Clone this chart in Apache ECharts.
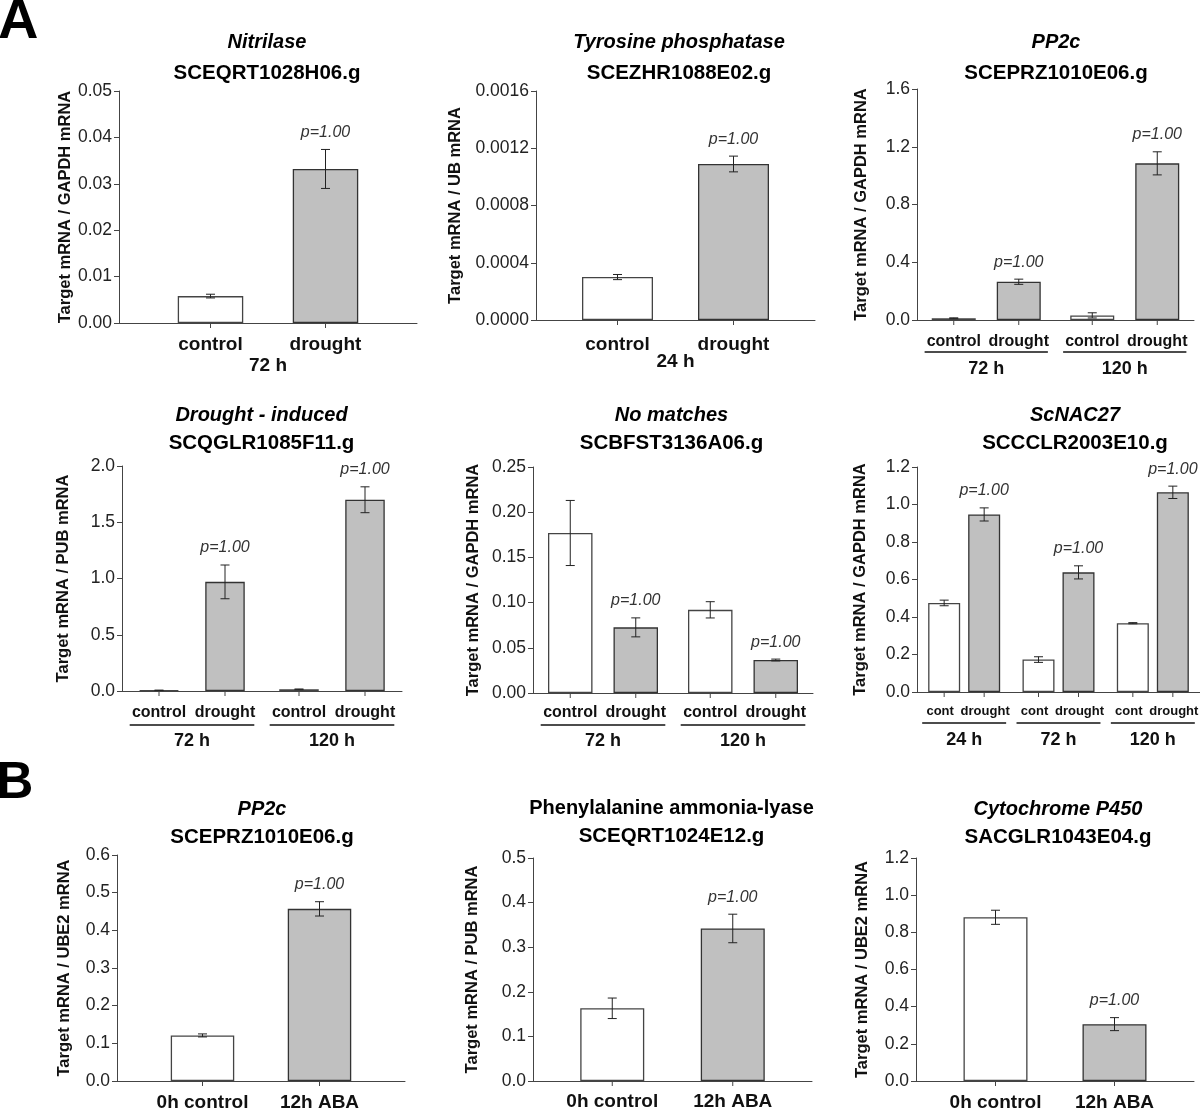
<!DOCTYPE html>
<html>
<head>
<meta charset="utf-8">
<script src="https://cdn.jsdelivr.net/npm/echarts@6/dist/echarts.min.js"></script>
<style>html,body{margin:0;padding:0;background:#fff}#c{width:1200px;height:1112px}</style>
</head>
<body>
<div id="c"></div>
<script>
// ---------------- DATA ----------------
const geneNames = ['Nitrilase', 'Tyrosine phosphatase', 'PP2c', 'Drought - induced', 'No matches', 'ScNAC27', 'PP2c', 'Phenylalanine ammonia-lyase', 'Cytochrome P450'];
const geneItalic = [true, true, true, true, true, true, true, false, true];
const geneIds = ['SCEQRT1028H06.g', 'SCEZHR1088E02.g', 'SCEPRZ1010E06.g', 'SCQGLR1085F11.g', 'SCBFST3136A06.g', 'SCCCLR2003E10.g', 'SCEPRZ1010E06.g', 'SCEQRT1024E12.g', 'SACGLR1043E04.g'];
const yAxisNames = ['Target mRNA / GAPDH mRNA', 'Target mRNA / UB mRNA', 'Target mRNA / GAPDH mRNA', 'Target mRNA / PUB mRNA', 'Target mRNA / GAPDH mRNA', 'Target mRNA / GAPDH mRNA', 'Target mRNA / UBE2 mRNA', 'Target mRNA / PUB mRNA', 'Target mRNA / UBE2 mRNA'];
const groupLabels = [['72 h'], ['24 h'], ['72 h', '120 h'], ['72 h', '120 h'], ['72 h', '120 h'], ['24 h', '72 h', '120 h'], [''], [''], ['']];
const barLabels = [['control', 'drought'], ['control', 'drought'], ['control', 'drought'], ['control', 'drought'], ['control', 'drought'], ['cont', 'drought'], ['0h control', '12h ABA'], ['0h control', '12h ABA'], ['0h control', '12h ABA']];
const controlMeans = [[0.0058], [0.00030], [0.012, 0.032], [0.006, 0.015], [0.177, 0.092], [0.475, 0.173, 0.367], [0.121], [0.163], [0.881]];
const controlErrs  = [[0.0004], [0.000018], [0.003, 0.018], [0.002, 0.003], [0.036, 0.009], [0.015, 0.015, 0.003], [0.004], [0.023], [0.038]];
const treatedMeans = [[0.0332], [0.00109], [0.265, 1.085], [0.97, 1.70], [0.0726, 0.0365], [0.947, 0.638, 1.065], [0.457], [0.342], [0.306]];
const treatedErrs  = [[0.0042], [0.000055], [0.018, 0.08], [0.15, 0.115], [0.0105, 0.001], [0.035, 0.035, 0.033], [0.019], [0.032], [0.035]];
const pLabels = [['p=1.00'], ['p=1.00'], ['p=1.00', 'p=1.00'], ['p=1.00', 'p=1.00'], ['p=1.00', 'p=1.00'], ['p=1.00', 'p=1.00', 'p=1.00'], ['p=1.00'], ['p=1.00'], ['p=1.00']];
const yMax = [0.05, 0.0016, 1.6, 2.0, 0.25, 1.2, 0.6, 0.5, 1.2];
const yStep = [0.01, 0.0004, 0.4, 0.5, 0.05, 0.2, 0.1, 0.1, 0.2];
const yDecimals = [2, 4, 1, 1, 2, 1, 1, 1, 1];
const panelLetters = ['A', 'B'];

// ---------------- LAYOUT ----------------
const FONT = "'Liberation Sans', Arial, Helvetica, sans-serif";
const layout = [
  {left:119, top:91,  width:298, height:232, barW:65.5, gap:49.5, nameGap:44, tx:267,    ty:[42, 73],      subFs:19, subOff:22,   subDx:[0,0],  grpFs:19, grpOff:43, ulOff:0},
  {left:536, top:91,  width:279, height:229, barW:71,   gap:45,   nameGap:72, tx:679,    ty:[42, 73],      subFs:19, subOff:25,   subDx:[0,0],  grpFs:19, grpOff:42, ulOff:0},
  {left:917, top:89,  width:277, height:231, barW:44,   gap:21,   nameGap:47, tx:1056,   ty:[42, 73],      subFs:16, subOff:21.5, subDx:[0,0],  grpFs:18, grpOff:49, ulOff:32},
  {left:122, top:466, width:280, height:225, barW:39.5, gap:26.5, nameGap:50, tx:261.5,  ty:[415, 443],    subFs:16, subOff:22,   subDx:[0,0],  grpFs:18, grpOff:50, ulOff:34},
  {left:533, top:467, width:280, height:226, barW:44.5, gap:21,   nameGap:51.5, tx:671.5,ty:[415, 443],    subFs:16, subOff:19.5, subDx:[0,0],  grpFs:18, grpOff:48, ulOff:32},
  {left:917, top:467, width:283, height:225, barW:32,   gap:8,    nameGap:48, tx:1075,   ty:[415, 443],    subFs:13, subOff:19,   subDx:[-4,1], grpFs:18, grpOff:48.5, ulOff:31},
  {left:117, top:855, width:288, height:228, barW:63.5, gap:53.5, nameGap:44.5, tx:262,  ty:[809, 837.5],  subFs:19, subOff:22,   subDx:[0,0],  grpFs:18, grpOff:40, ulOff:0},
  {left:533, top:858, width:279, height:227, barW:64,   gap:56.5, nameGap:52, tx:671.5,  ty:[808.5, 836.5],subFs:19, subOff:20.5, subDx:[0,0],  grpFs:18, grpOff:40, ulOff:0},
  {left:916, top:858, width:278, height:225, barW:64,   gap:55,   nameGap:45.5, tx:1058, ty:[809, 837.5],  subFs:19, subOff:22,   subDx:[0,0],  grpFs:18, grpOff:40, ulOff:0}
];
const letterPos = [{x:-2, y:23, fs:56}, {x:-3.5, y:784, fs:51}];

function makeRender(p, s) {
  const L = layout[p];
  const off = (s - 0.5) * (L.barW + L.gap);
  return function (params, api) {
    const cat = api.value(0), m = api.value(1), e = api.value(2);
    const top = api.coord([cat, m + e]);
    const bot = api.coord([cat, m - e]);
    const base = api.coord([cat, 0]);
    const x = base[0] + off;
    const ls = {stroke:'#222', lineWidth:1};
    const ch = [
      {type:'line', shape:{x1:x, y1:top[1], x2:x, y2:bot[1]}, style:ls},
      {type:'line', shape:{x1:x-4.5, y1:top[1], x2:x+4.5, y2:top[1]}, style:ls},
      {type:'line', shape:{x1:x-4.5, y1:bot[1], x2:x+4.5, y2:bot[1]}, style:ls},
      {type:'line', shape:{x1:x, y1:base[1], x2:x, y2:base[1]+5}, style:{stroke:'#444', lineWidth:1}},
      {type:'text', style:{text:barLabels[p][s], x:x + L.subDx[s], y:base[1]+L.subOff, align:'center', verticalAlign:'middle',
        fontSize:L.subFs, fontWeight:'bold', fontFamily:FONT, fill:'#111'}}
    ];
    if (s === 1) {
      ch.push({type:'text', style:{text:pLabels[p][params.dataIndex], x:x, y:top[1]-17, align:'center', verticalAlign:'middle',
        fontSize:16, fontStyle:'italic', fontFamily:FONT, fill:'#333'}});
    }
    if (s === 0 && L.ulOff) {
      const band = api.size([1, 0])[0];
      ch.push({type:'line', shape:{x1:base[0]-0.445*band, y1:base[1]+L.ulOff, x2:base[0]+0.445*band, y2:base[1]+L.ulOff},
        style:{stroke:'#111', lineWidth:1.3}});
    }
    return {type:'group', children:ch};
  };
}

const grids = [], xAxes = [], yAxes = [], series = [], graphics = [];
for (let p = 0; p < 9; p++) {
  const L = layout[p];
  grids.push({left:L.left, top:L.top, width:L.width, height:L.height, containLabel:false});
  xAxes.push({
    type:'category', gridIndex:p, data:groupLabels[p], boundaryGap:true,
    axisLine:{show:true, lineStyle:{color:'#444', width:1}},
    axisTick:{show:false},
    axisLabel:{show:true, interval:0, margin:L.grpOff - L.grpFs/2, fontSize:L.grpFs, fontWeight:'bold', fontFamily:FONT, color:'#111'},
    splitLine:{show:false}
  });
  yAxes.push({
    type:'value', gridIndex:p, min:0, max:yMax[p], interval:yStep[p],
    name:yAxisNames[p], nameLocation:'middle', nameGap:L.nameGap, nameRotate:90,
    nameTextStyle:{fontSize:16.5, fontWeight:'bold', fontFamily:FONT, color:'#111'},
    axisLine:{show:true, lineStyle:{color:'#444', width:1}},
    axisTick:{show:true, inside:false, length:5, lineStyle:{color:'#444'}},
    axisLabel:{fontSize:17.5, fontFamily:FONT, color:'#222', margin:7, formatter:(v)=>v.toFixed(yDecimals[p])},
    splitLine:{show:false}
  });
  series.push({
    type:'bar', xAxisIndex:p, yAxisIndex:p, name:barLabels[p][0], data:controlMeans[p],
    barWidth:L.barW, barGap:(L.gap / L.barW * 100) + '%',
    itemStyle:{color:'#ffffff', borderColor:'#444', borderWidth:1.3}, silent:true, animation:false
  });
  series.push({
    type:'bar', xAxisIndex:p, yAxisIndex:p, name:barLabels[p][1], data:treatedMeans[p],
    barWidth:L.barW, barGap:(L.gap / L.barW * 100) + '%',
    itemStyle:{color:'#c0c0c0', borderColor:'#333', borderWidth:1.3}, silent:true, animation:false
  });
  series.push({
    type:'custom', xAxisIndex:p, yAxisIndex:p, z:5, silent:true, animation:false,
    data:controlMeans[p].map((m, i) => [i, m, controlErrs[p][i]]),
    encode:{x:0, y:1}, renderItem:makeRender(p, 0)
  });
  series.push({
    type:'custom', xAxisIndex:p, yAxisIndex:p, z:5, silent:true, animation:false,
    data:treatedMeans[p].map((m, i) => [i, m, treatedErrs[p][i]]),
    encode:{x:0, y:1}, renderItem:makeRender(p, 1)
  });
  graphics.push({type:'text', x:L.tx, y:L.ty[0], style:{text:geneNames[p], align:'center', verticalAlign:'middle',
    textAlign:'center', textVerticalAlign:'middle',
    fontSize:20, fontWeight:'bold', fontStyle:geneItalic[p] ? 'italic' : 'normal', fontFamily:FONT, fill:'#000'}});
  graphics.push({type:'text', x:L.tx, y:L.ty[1], style:{text:geneIds[p], align:'center', verticalAlign:'middle',
    textAlign:'center', textVerticalAlign:'middle',
    fontSize:20.5, fontWeight:'bold', fontFamily:FONT, fill:'#000'}});
}
panelLetters.forEach((t, i) => {
  const P = letterPos[i];
  graphics.push({type:'text', x:P.x, y:P.y, style:{text:t, align:'left', verticalAlign:'middle', textAlign:'left', textVerticalAlign:'middle',
    fontSize:P.fs, fontWeight:'bold', fontFamily:FONT, fill:'#000'}});
});

const chart = echarts.init(document.getElementById('c'), null, {renderer:'canvas'});
chart.setOption({
  backgroundColor:'#ffffff',
  animation:false,
  grid:grids, xAxis:xAxes, yAxis:yAxes, series:series,
  graphic:{elements:graphics}
});
</script>
</body>
</html>
